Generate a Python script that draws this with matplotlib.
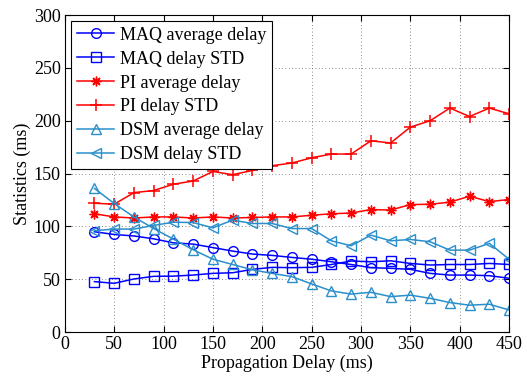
import matplotlib
matplotlib.use('Agg')
import matplotlib.pyplot as plt

# ---- data ----
delay = [30, 50, 70, 90, 110, 130, 150, 170, 190, 210, 230,
         250, 270, 290, 310, 330, 350, 370, 390, 410, 430, 450]

maq_avg = [95, 92.4, 91, 88.3, 84.5, 83.3, 80, 76.7, 73.9, 72.6, 70.7,
           69, 66.6, 64, 61, 60.4, 59.4, 55.6, 54, 54, 53.4, 51]
maq_std = [47.8, 46.2, 50.3, 52.8, 53, 54, 55.6, 56.2, 59.4, 61.3, 61,
           61.3, 64, 67.3, 66.6, 67.5, 65, 63.5, 64, 64, 65, 64]
pi_avg = [112, 109, 108, 109, 109, 108, 109, 108, 108.5, 109, 109,
          110.6, 112, 112.7, 116, 115.5, 120.7, 121, 123, 128.6, 123.5, 125.5]
pi_std = [122, 121, 132, 134, 140, 143, 152, 149, 153, 157.5, 160,
          165, 168.5, 168.5, 181, 179, 194, 200, 212, 204, 212, 206.6]
dsm_avg = [136, 121.7, 109, 98, 88, 78, 69, 64, 59, 55.6, 52.5,
           45.6, 39, 36, 37.7, 33.6, 35, 32, 28, 25.5, 26.4, 21]
dsm_std = [96, 97.5, 97.5, 101, 104, 103.7, 98.7, 106, 102.8, 102.8, 98,
           98, 86.4, 81.7, 91.8, 86.4, 87.7, 85.5, 77.6, 77.6, 84, 69]

BLUE = '#0000ff'
RED = '#ff0000'
LBLUE = '#2a8fca'

plt.rcParams['font.family'] = ['Liberation Serif', 'DejaVu Serif']
plt.rcParams['font.size'] = 13

fig = plt.figure(figsize=(5.27, 3.77), dpi=100)
ax = fig.add_axes([0.123, 0.119, 0.843, 0.841])

mk = dict(markersize=7, markerfacecolor='none', linewidth=1.1, markeredgewidth=1.0)
ax.plot(delay, maq_avg, '-o', color=BLUE, label='MAQ average delay', **mk)
ax.plot(delay, maq_std, '-s', color=BLUE, label='MAQ delay STD', **mk)
ax.plot(delay, pi_avg, '-', marker=(8, 2, 0), color=RED, label='PI average delay',
        markersize=7, linewidth=1.1, markeredgewidth=1.0)
ax.plot(delay, pi_std, '-+', color=RED, label='PI delay STD', markersize=8,
        linewidth=1.1, markeredgewidth=1.1)
ax.plot(delay, dsm_avg, '-^', color=LBLUE, label='DSM average delay', **mk)
ax.plot(delay, dsm_std, '-<', color=LBLUE, label='DSM delay STD', **mk)

ax.set_xlim(0, 450)
ax.set_ylim(0, 300)
ax.set_xticks(range(0, 451, 50))
ax.set_yticks(range(0, 301, 50))
ax.tick_params(direction='in', top=True, right=True, length=4, pad=3)
ax.grid(True, linestyle=(0, (1, 3)), color='#666666', linewidth=0.6)
ax.set_axisbelow(True)

ax.set_xlabel('Propagation Delay (ms)', labelpad=1)
ax.set_ylabel('Statistics (ms)', labelpad=2)

leg = ax.legend(loc='upper left', bbox_to_anchor=(0.0, 1.0), fancybox=False,
                edgecolor='black', framealpha=1, handlelength=2.1,
                borderpad=0.3, labelspacing=0.38, handletextpad=0.3,
                borderaxespad=0.35)
leg.get_frame().set_linewidth(0.8)

fig.savefig('out.png', dpi=100)
